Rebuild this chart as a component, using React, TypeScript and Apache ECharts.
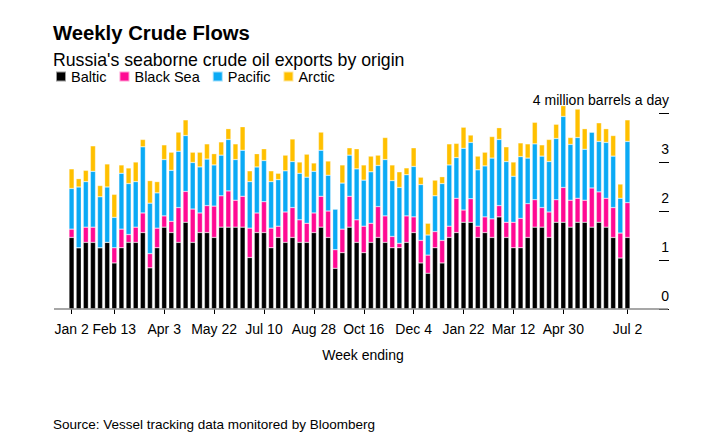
import React, { useEffect, useRef } from "react";
import * as echarts from "echarts";

// Week-ending dates: first and last category
const FIRST_WEEK = "2022-01-02";
const WEEK_COUNT = 79;
const TICK_DATES = [
  "2022-01-02", "2022-02-13", "2022-04-03", "2022-05-22", "2022-07-10", "2022-08-28",
  "2022-10-16", "2022-12-04", "2023-01-22", "2023-03-12", "2023-04-30", "2023-07-02",
];
const Y_TICKS = [0, 1, 2, 3, 4];

// million barrels a day
const BALTIC = [
  1.46, 1.25, 1.36, 1.36, 1.25, 1.36, 0.94, 1.25, 1.36, 1.36, 1.56, 0.84, 1.25,
  1.67, 1.56, 1.36, 1.77, 1.36, 1.56, 1.56, 1.46, 1.67, 1.67, 1.67, 1.67, 1.05, 1.56,
  1.56, 1.25, 1.46, 1.36, 1.46, 1.36, 1.36, 1.56, 1.67, 1.46, 0.83, 1.15, 1.67, 1.36,
  1.15, 1.36, 1.46, 1.36, 1.25, 1.25, 1.36, 1.56, 0.94, 0.73, 1.25, 0.94, 1.46, 1.56,
  1.77, 1.77, 1.46, 1.56, 1.46, 1.88, 1.46, 1.25, 1.25, 1.46, 1.67, 1.67, 1.46, 1.77,
  1.77, 1.67, 1.77, 1.77, 1.67, 1.77, 1.67, 1.46, 1.04, 1.46,
];
const BLACK_SEA = [
  0.17, 0, 0.31, 0.31, 0, 0, 0.31, 0.38, 0.16, 0.31, 0.4, 0.29, 0.4,
  0.23, 0.23, 0.71, 0.63, 0.68, 0.4, 0.55, 0.64, 0.64, 0.74, 0.55, 0.63, 0.6, 0.4,
  0.63, 0.4, 0.23, 0.62, 0.61, 0.46, 0.39, 0.4, 0.63, 0.54, 0.38, 0.48, 0.63, 0.46,
  0.54, 0.39, 0.63, 0.54, 0.23, 0.09, 0.54, 0.32, 0.46, 0.37, 0.33, 0.46, 0.23, 0.7,
  0.25, 0.48, 0.23, 0.32, 0.38, 0.23, 0.31, 0.52, 0.6, 0.69, 0.56, 0.4, 0.52, 0.46,
  0.71, 0.55, 0.49, 0.45, 0.8, 0.62, 0.59, 0.61, 0.51, 0.71,
];
const PACIFIC = [
  0.83, 1.24, 0.93, 1.14, 1.04, 1.13, 0.62, 1.14, 1.04, 0.93, 1.35, 1.03, 0.72,
  1.15, 1.04, 1.15, 1.14, 0.95, 0.94, 0.95, 0.84, 0.83, 1.05, 0.83, 0.94, 0.95, 0.94,
  0.84, 0.95, 0.95, 0.84, 0.94, 0.95, 0.94, 0.85, 0.94, 0.73, 0.83, 0.94, 0.84, 1.04,
  0.94, 1.05, 0.84, 1.15, 1.14, 1.14, 0.84, 1.03, 1.14, 0.41, 0.73, 1.16, 1.25, 0.83,
  1.26, 1.15, 1.15, 1.04, 1.24, 1.35, 1.24, 0.94, 1.26, 0.93, 1.14, 1.05, 1.03, 1.25,
  1.45, 1.14, 1.24, 1.04, 1.14, 1.03, 1.14, 1.05, 0.71, 1.25,
];
const ARCTIC = [
  0.4, 0.17, 0.23, 0.52, 0.23, 0.47, 0.47, 0.17, 0.32, 0.4, 0.15, 0.46, 0.23,
  0.3, 0.37, 0.39, 0.32, 0.21, 0.3, 0.31, 0.23, 0.27, 0.22, 0.32, 0.48, 0.22, 0.27,
  0.24, 0.22, 0.13, 0.32, 0.46, 0.23, 0.47, 0.17, 0.37, 0.29, 0, 0.37, 0.15, 0.41,
  0.31, 0.32, 0.21, 0.45, 0.32, 0.32, 0.14, 0.38, 0.15, 0.24, 0.32, 0.14, 0.43, 0.29,
  0.43, 0.15, 0.28, 0.28, 0.44, 0.24, 0.3, 0.29, 0.28, 0.29, 0.44, 0.23, 0.45, 0.29,
  0.22, 0.14, 0.58, 0.42, 0, 0.38, 0.28, 0.42, 0.29, 0.44,
];

const SERIES_NAMES = ["Baltic", "Black Sea", "Pacific", "Arctic"];
const SERIES_DATA = [BALTIC, BLACK_SEA, PACIFIC, ARCTIC];
const COLORS = ["#000000", "#ff0a93", "#0aaaf5", "#ffc000"];

const MONTHS = ["Jan", "Feb", "Mar", "Apr", "May", "Jun", "Jul", "Aug", "Sep", "Oct", "Nov", "Dec"];
const FONT = '"Liberation Sans", Arial, Helvetica, sans-serif';

function buildWeeks(): string[] {
  const out: string[] = [];
  const start = new Date(FIRST_WEEK + "T00:00:00Z").getTime();
  for (let i = 0; i < WEEK_COUNT; i++) {
    out.push(new Date(start + i * 7 * 86400000).toISOString().slice(0, 10));
  }
  return out;
}
function fmt(iso: string): string {
  const d = new Date(iso + "T00:00:00Z");
  return MONTHS[d.getUTCMonth()] + " " + d.getUTCDate();
}

export default function App() {
  const ref = useRef<HTMLDivElement>(null);
  useEffect(() => {
    if (!ref.current) return;
    const chart = echarts.init(ref.current, null, { renderer: "svg" });
    const weeks = buildWeeks();
    const tickSet = new Set(TICK_DATES);
    const showTick = (_i: number, v: string) => tickSet.has(v);
    chart.setOption({
      animation: false,
      backgroundColor: "#ffffff",
      textStyle: { fontFamily: FONT, color: "#000" },
      legend: {
        data: SERIES_NAMES,
        left: 55,
        top: 69,
        padding: 0,
        icon: "rect",
        itemWidth: 10,
        itemHeight: 10,
        itemGap: 12,
        selectedMode: false,
        textStyle: { fontFamily: FONT, fontSize: 14.5, color: "#000" },
      },
      grid: { left: 68, right: 80, top: 113, bottom: 139, containLabel: false },
      xAxis: {
        type: "category",
        data: weeks,
        boundaryGap: true,
        axisLine: { show: false },
        axisTick: {
          show: true,
          alignWithLabel: true,
          interval: showTick,
          length: 5,
          lineStyle: { color: "#000", width: 1 },
        },
        axisLabel: {
          interval: showTick,
          formatter: (v: string) => fmt(v),
          margin: 13,
          fontFamily: FONT,
          fontSize: 14,
          color: "#000",
        },
        splitLine: { show: false },
      },
      yAxis: {
        type: "value",
        position: "right",
        offset: 28,
        min: 0,
        max: 4,
        interval: 1,
        axisLine: { show: false },
        axisTick: { show: true, inside: false, length: 10, lineStyle: { color: "#000", width: 1 } },
        splitLine: { show: false },
        axisLabel: {
          margin: 10,
          align: "right",
          verticalAlign: "bottom",
          padding: [0, 0, 6, 0],
          fontFamily: FONT,
          fontSize: 14,
          color: "#000",
          formatter: (v: number) =>
            Y_TICKS.includes(v) ? (v === 4 ? "4 million barrels a day" : String(v)) : "",
        },
      },
      graphic: [
        {
          type: "text",
          style: { text: "Weekly Crude Flows", x: 53, y: 33, font: `bold 20.3px ${FONT}`, fill: "#000", verticalAlign: "middle" },
        },
        {
          type: "text",
          style: { text: "Russia's seaborne crude oil exports by origin", x: 53, y: 60, font: `17.7px ${FONT}`, fill: "#000", verticalAlign: "middle" },
        },
        {
          type: "line",
          shape: { x1: 54, y1: 309, x2: 668, y2: 309 },
          style: { stroke: "#8a8a8a", lineWidth: 1.5 },
          z: 10,
        },
        {
          type: "text",
          style: { text: "Week ending", x: 363, y: 355, font: `14px ${FONT}`, fill: "#000", align: "center", verticalAlign: "middle" },
        },
        {
          type: "text",
          style: { text: "Source: Vessel tracking data monitored by Bloomberg", x: 53, y: 424, font: `13.5px ${FONT}`, fill: "#000", verticalAlign: "middle" },
        },
      ],
      series: SERIES_NAMES.map((name, i) => ({
        name,
        type: "bar",
        stack: "total",
        clip: false,
        barWidth: "72%",
        data: SERIES_DATA[i],
        itemStyle: { color: COLORS[i], borderColor: "rgba(255,255,255,0.6)", borderWidth: 0.5 },
        emphasis: { disabled: true },
      })),
    });
    return () => chart.dispose();
  }, []);
  return (
    <div
      ref={ref}
      style={{ position: "fixed", left: 0, top: 0, width: 711, height: 448, background: "#fff" }}
    />
  );
}
